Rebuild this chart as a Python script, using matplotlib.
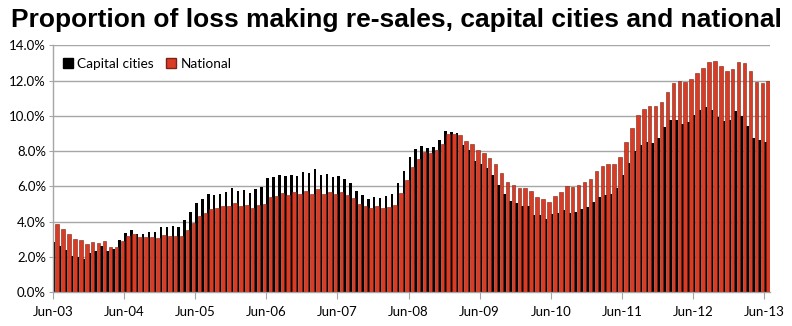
import matplotlib
matplotlib.use("Agg")
import matplotlib.pyplot as plt
import numpy as np
from matplotlib.patches import Patch

capital = [2.87, 2.62, 2.42, 2.08, 2.00, 1.91, 2.25, 2.36, 2.62, 2.34, 2.43, 2.94,
           3.38, 3.51, 3.28, 3.28, 3.42, 3.42, 3.70, 3.72, 3.75, 3.70, 4.08, 4.53,
           5.08, 5.30, 5.58, 5.53, 5.58, 5.70, 5.91, 5.75, 5.81, 5.64, 5.85, 5.98,
           6.47, 6.55, 6.66, 6.57, 6.66, 6.62, 6.83, 6.77, 7.00, 6.66, 6.72, 6.53,
           6.60, 6.40, 6.21, 5.74, 5.49, 5.28, 5.40, 5.34, 5.45, 5.58, 6.17, 6.89,
           7.66, 8.12, 8.30, 8.18, 8.24, 8.63, 9.17, 9.10, 9.04, 8.36, 8.06, 7.43,
           7.29, 7.07, 6.64, 6.08, 5.57, 5.18, 5.06, 4.91, 4.87, 4.40, 4.36, 4.15,
           4.42, 4.51, 4.68, 4.51, 4.57, 4.70, 4.83, 5.13, 5.40, 5.53, 5.57, 5.94,
           6.66, 7.34, 8.02, 8.36, 8.53, 8.49, 8.75, 9.38, 9.79, 9.77, 9.53, 9.64,
           10.04, 10.32, 10.51, 10.32, 9.91, 9.70, 9.79, 10.28, 10.00, 9.42, 8.74, 8.62,
           8.53]
national = [3.87, 3.57, 3.30, 3.00, 2.94, 2.74, 2.83, 2.79, 2.89, 2.55, 2.55, 2.91,
            3.19, 3.30, 3.13, 3.11, 3.11, 3.06, 3.23, 3.21, 3.21, 3.21, 3.53, 3.92,
            4.30, 4.49, 4.70, 4.75, 4.87, 4.89, 5.06, 4.87, 4.94, 4.75, 4.94, 5.02,
            5.40, 5.47, 5.62, 5.54, 5.66, 5.60, 5.74, 5.60, 5.83, 5.60, 5.68, 5.55,
            5.68, 5.49, 5.34, 4.98, 4.87, 4.79, 4.87, 4.75, 4.81, 4.96, 5.64, 6.36,
            7.09, 7.58, 7.94, 7.92, 8.05, 8.43, 9.00, 9.00, 8.94, 8.55, 8.38, 8.04,
            7.87, 7.64, 7.26, 6.74, 6.28, 6.06, 5.94, 5.89, 5.77, 5.38, 5.26, 5.09,
            5.45, 5.68, 6.00, 5.96, 6.11, 6.23, 6.45, 6.85, 7.15, 7.26, 7.30, 7.66,
            8.51, 9.31, 10.04, 10.38, 10.55, 10.55, 10.77, 11.37, 11.84, 11.95, 11.90, 12.07,
            12.41, 12.69, 13.04, 13.09, 12.80, 12.54, 12.63, 13.06, 13.00, 12.54, 11.92, 11.84,
            11.96]
tick_labels = ["Jun-03", "Jun-04", "Jun-05", "Jun-06", "Jun-07", "Jun-08",
               "Jun-09", "Jun-10", "Jun-11", "Jun-12", "Jun-13"]
y_ticks = [0, 2, 4, 6, 8, 10, 12, 14]

RED = "#D93B24"
GRID = "#A6A6A6"
plt.rcParams['font.family'] = ['Lato', 'DejaVu Sans']

fig = plt.figure(figsize=(7.92, 3.26), dpi=100)
ax = fig.add_axes([53/792, 1-292.3/326, (770-53)/792, (292.3-45.3)/326])

x = np.arange(len(capital))
ax.bar(x - 0.5, capital, width=0.42, align='edge', color='black', linewidth=0, zorder=2)
ax.bar(x - 0.1, national, width=0.6, align='edge', color=RED, edgecolor='#7A2314',
       linewidth=0.4, zorder=3)

ax.set_xlim(-0.5, len(capital) - 0.5)
ax.set_ylim(0, 14)
ax.set_yticks(y_ticks)
ax.set_yticklabels([f"{v:.1f}%" for v in y_ticks], fontsize=9.5)
ax.set_xticks(np.arange(0, len(capital), 12) - 0.5)
ax.set_xticklabels(tick_labels, fontsize=9.5)
ax.yaxis.grid(True, color=GRID, linewidth=1, zorder=0)
ax.set_axisbelow(True)
for s in ['top', 'right']:
    ax.spines[s].set_visible(False)
for s in ['left', 'bottom']:
    ax.spines[s].set_color(GRID)
    ax.spines[s].set_linewidth(1)
ax.tick_params(axis='x', direction='out', length=5, color=GRID, pad=5)
ax.tick_params(axis='y', direction='out', length=3, color=GRID, pad=2)

fig.text(0.501, 1 - 27/326, "Proportion of loss making re-sales, capital cities and national",
         ha='center', va='baseline', fontsize=19, fontweight='bold',
         family=['Liberation Sans', 'DejaVu Sans'])

handles = [Patch(facecolor='black', edgecolor='black', label='Capital cities'),
           Patch(facecolor=RED, edgecolor='#7A2314', label='National')]
fig.legend(handles=handles, loc='center left', bbox_to_anchor=(63/792, 1 - 64/326),
           ncol=2, frameon=False, fontsize=9.8, handlelength=0.75, handleheight=0.75,
           handletextpad=0.3, columnspacing=0.9, borderaxespad=0, borderpad=0)

fig.savefig("out.png", dpi=100)
